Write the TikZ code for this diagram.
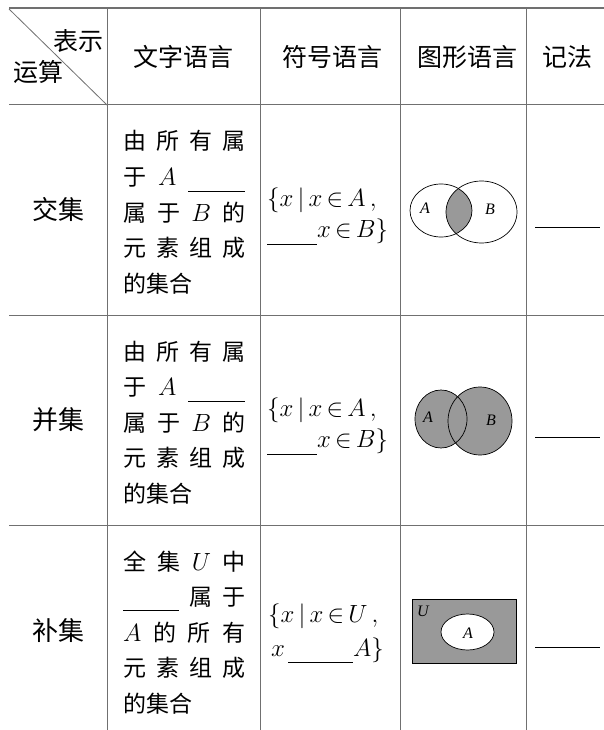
\documentclass[tikz,border=0pt]{standalone}
\usepackage{fontspec}
\usepackage{tikz}
\usetikzlibrary{positioning}
\newfontfamily\cjk{Noto Sans CJK SC}
\newfontfamily\vennfont{Liberation Serif}
\definecolor{rulegray}{RGB}{112,112,112}
\definecolor{venngray}{RGB}{153,153,153}
\newcommand\blank[2][6pt]{\rule[-#1]{#2}{0.8pt}}
\newcommand\fullline[1]{\makebox[122pt][l]{#1}}
\newcommand\mv[1]{{\fontsize{25}{28}\selectfont$#1$}}

\tikzset{
    tablerule/.style={rulegray, line width=1pt},
    headtext/.style={font=\cjk\fontsize{25}{30}\selectfont, inner sep=0pt},
    opname/.style={font=\cjk\fontsize{26}{30}\selectfont, inner sep=0pt},
    bodyline/.style={font=\cjk\fontsize{23}{28}\selectfont, inner sep=0pt, anchor=base west},
    symline/.style={font=\fontsize{26}{30}\selectfont, inner sep=0pt, anchor=base west},
    vennlabel/.style={font=\vennfont\itshape\fontsize{16}{18}\selectfont, inner sep=0pt},
    setline/.style={draw=black, line width=0.7pt},
    notation/.style={anchor=west, inner sep=0pt}
}

\begin{document}
\begin{tikzpicture}[x=1pt,y=-1pt]
        \useasboundingbox (0,0) rectangle (604,730);
        \draw[rulegray, line width=2.7pt] (9,8) -- (604,8);
        \foreach \y in {105,315,525}
            \draw[tablerule] (9,\y) -- (604,\y);
        \foreach \x in {107,260,400,526}
            \draw[tablerule] (\x,9) -- (\x,730);
        \draw[rulegray, line width=0.8pt] (9,9) -- (107,105);

        \node[headtext] (hbiao) at (78,41) {表示};
        \node[headtext] (hyun) at (38,72) {运算};
        \node[headtext] (hwen) at (183,57) {文字语言};
        \node[headtext] (hfu) at (332,57) {符号语言};
        \node[headtext] (htu) at (467,57) {图形语言};
        \node[headtext] (hji) at (567,57) {记法};

        \foreach \r/\dy/\op in {a/0/交集, b/210/并集} {
            \node[opname] (op\r) at (58,210+\dy) {\op};
            \node[bodyline] (txt\r1) at (123,150+\dy) {\fullline{由\hfill 所\hfill 有\hfill 属}};
            \node[bodyline] (txt\r2) at (123,185.5+\dy) {\fullline{于\hfill \mv{A}\hfill \blank{57pt}}};
            \node[bodyline] (txt\r3) at (123,221+\dy) {\fullline{属\hfill 于\hfill \mv{B}\hfill 的}};
            \node[bodyline] (txt\r4) at (123,256.5+\dy) {\fullline{元\hfill 素\hfill 组\hfill 成}};
            \node[bodyline] (txt\r5) at (123,292+\dy) {的集合};
            \node[symline] (sym\r1) at (267,206+\dy) {$\{x\,|\,x\,{\in}\,A\,,$};
            \node[symline] (sym\r2) at (267,237+\dy) {\blank[8pt]{50pt}$x\,{\in}\,B\}$};
            \node[notation] (not\r) at (535,227+\dy) {\rule{65pt}{0.8pt}};
        }

        \node[opname] (opc) at (58,631) {补集};
        \node[bodyline] (txtc1) at (123,570) {\fullline{全\hfill 集\hfill \mv{U}\hfill 中}};
        \node[bodyline] (txtc2) at (123,605.5) {\fullline{\blank[5pt]{56pt}\hfill 属\hfill 于}};
        \node[bodyline] (txtc3) at (123,641) {\fullline{\mv{A}\hfill 的\hfill 所\hfill 有}};
        \node[bodyline] (txtc4) at (123,676.5) {\fullline{元\hfill 素\hfill 组\hfill 成}};
        \node[bodyline] (txtc5) at (123,712) {的集合};
        \node[symline] (symc1) at (268,622) {$\{x\,|\,x\,{\in}\,U\,,$};
        \node[symline] (symc2) at (271,656) {$x$\hspace{3pt}\blank[7pt]{65pt}$A\}$};
        \node[notation] (notc) at (535,647) {\rule{65pt}{0.8pt}};

        \begin{scope}
            \clip (441,210.5) ellipse [x radius=31, y radius=26.5];
            \fill[venngray] (481.5,212) ellipse [x radius=35.5, y radius=31];
        \end{scope}
        \draw[setline] (441,210.5) ellipse [x radius=31, y radius=26.5];
        \draw[setline] (481.5,212) ellipse [x radius=35.5, y radius=31];
        \node[vennlabel] (ia) at (425,208) {A};
        \node[vennlabel] (ib) at (490,209) {B};

        \fill[venngray] (441,419) ellipse [x radius=26, y radius=29];
        \fill[venngray] (480,421) ellipse [x radius=32, y radius=34];
        \draw[setline] (441,419) ellipse [x radius=26, y radius=29];
        \draw[setline] (480,421) ellipse [x radius=32, y radius=34];
        \node[vennlabel] (ua) at (428,417) {A};
        \node[vennlabel] (ub) at (491,420) {B};

        \draw[setline, fill=venngray] (412,599) rectangle (516,663);
        \draw[setline, fill=white] (467.5,632) ellipse [x radius=26.5, y radius=18];
        \node[vennlabel] (cu) at (423,611) {U};
        \node[vennlabel] (ca) at (468,633) {A};
\end{tikzpicture}
\end{document}
